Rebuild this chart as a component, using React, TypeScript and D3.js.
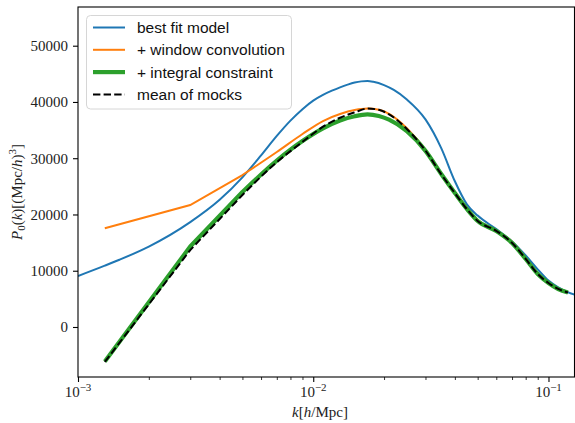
import * as d3 from "d3";
import { useEffect, useRef } from "react";

// model curve, sampled on k
const kModel = [0.001, 0.0013, 0.0015, 0.002, 0.003, 0.004, 0.005, 0.006, 0.007, 0.008, 0.009, 0.01, 0.011, 0.012, 0.013, 0.014, 0.015, 0.016, 0.017, 0.018, 0.02, 0.022, 0.025, 0.03, 0.035, 0.04, 0.045, 0.05, 0.06, 0.07, 0.08, 0.09, 0.1, 0.11, 0.12, 0.13];
const bestFit = [9060, 10900, 11950, 14290, 18640, 22610, 26600, 30500, 33960, 36680, 38720, 40230, 41250, 42000, 42600, 43080, 43450, 43660, 43720, 43580, 42990, 42130, 40440, 36900, 31800, 25900, 21800, 19800, 17400, 15200, 12700, 10250, 8250, 7050, 6250, 5700];

// binned k of the mocks
const kBins = [0.0013, 0.003, 0.005, 0.007, 0.009, 0.011, 0.013, 0.015, 0.017, 0.019, 0.021, 0.025, 0.03, 0.035, 0.04, 0.045, 0.05, 0.06, 0.07, 0.08, 0.09, 0.1, 0.11, 0.121];
const windowConv = [17540, 21680, 27010, 31100, 34300, 36610, 37850, 38560, 38830, 38600, 37900, 35350, 31500, 27300, 23900, 21060, 19010, 17150, 15150, 12260, 9510, 7870, 6800, 6170];
const integralConstraint = [-6130, 14300, 23990, 29590, 33050, 35300, 36700, 37450, 37780, 37500, 36850, 34800, 31300, 27200, 23810, 20970, 18840, 17060, 14930, 12080, 9420, 7820, 6750, 6130];
const mockMean = [-6220, 13680, 23460, 29300, 32900, 35600, 37200, 38150, 38830, 38600, 37800, 35200, 31350, 27150, 23800, 20950, 18850, 17080, 14950, 12100, 9430, 7830, 6760, 6140];

const yTicks = [0, 10000, 20000, 30000, 40000, 50000];
const xMajor = [1e-3, 1e-2, 1e-1];
const xMajorExp = ["−3", "−2", "−1"];
const legendLabels = ["best fit model", "+ window convolution", "+ integral constraint", "mean of mocks"];

export default function App() {
  const ref = useRef<SVGSVGElement>(null);

  useEffect(() => {
    const svg = d3.select(ref.current);
    svg.selectAll("*").remove();

    const left = 78, right = 574.5, top = 7, bottom = 377;
    const serif = "'Liberation Serif', 'Times New Roman', serif";
    const sans = "'Liberation Sans', Arial, sans-serif";

    const x = d3.scaleLog().domain([1e-3, 0.129]).range([left, right]);
    const y = d3.scaleLinear().domain([-8890, 56880]).range([bottom, top]);

    svg.append("rect").attr("width", 575).attr("height", 423).attr("fill", "white");

    svg.append("clipPath").attr("id", "plotArea")
      .append("rect")
      .attr("x", left).attr("y", top)
      .attr("width", right - left).attr("height", bottom - top);

    const plot = svg.append("g").attr("clip-path", "url(#plotArea)");

    const modelLine = d3.line<number>()
      .x((_, i) => x(kModel[i]))
      .y(d => y(d))
      .curve(d3.curveMonotoneX);

    // first wide bins straight, the dense ones smoothed
    const pts = (vals: number[]) => vals.map((v, i) => [x(kBins[i]), y(v)] as [number, number]);
    const straight = d3.line();
    const smooth = d3.line().curve(d3.curveMonotoneX);
    const binPath = (vals: number[]) => {
      const p = pts(vals);
      return straight(p.slice(0, 3))! + smooth(p.slice(2))!.replace(/^M[^CL]*/, "");
    };

    plot.append("path").datum(bestFit)
      .attr("fill", "none").attr("stroke", "#1f77b4").attr("stroke-width", 2)
      .attr("d", modelLine);

    plot.append("path")
      .attr("fill", "none").attr("stroke", "#ff7f0e").attr("stroke-width", 2)
      .attr("d", binPath(windowConv));

    plot.append("path")
      .attr("fill", "none").attr("stroke", "#2ca02c").attr("stroke-width", 4.2)
      .attr("stroke-linejoin", "round")
      .attr("d", binPath(integralConstraint));

    plot.append("path")
      .attr("fill", "none").attr("stroke", "black").attr("stroke-width", 2)
      .attr("stroke-dasharray", "7.4,3.2")
      .attr("d", binPath(mockMean));

    // y axis
    const yAxis = svg.append("g")
      .attr("transform", `translate(${left},0)`)
      .call(d3.axisLeft(y).tickValues(yTicks).tickSize(5).tickPadding(5).tickFormat(d3.format("d")));
    yAxis.select(".domain").remove();
    yAxis.selectAll("line").attr("stroke", "black").attr("stroke-width", 1.1);
    yAxis.selectAll("text")
      .style("font-family", serif).style("font-size", "15px").attr("fill", "#222");

    // x axis: minor ticks
    const minor = x.ticks().filter(v => !xMajor.some(m => Math.abs(m - v) / m < 1e-6));
    const xMinor = svg.append("g")
      .attr("transform", `translate(0,${bottom})`)
      .call(d3.axisBottom(x).tickValues(minor).tickSize(3).tickFormat(() => ""));
    xMinor.select(".domain").remove();
    xMinor.selectAll("line").attr("stroke", "black").attr("stroke-width", 0.8);

    const xAxis = svg.append("g")
      .attr("transform", `translate(0,${bottom})`)
      .call(d3.axisBottom(x).tickValues(xMajor).tickSize(5).tickFormat(() => ""));
    xAxis.select(".domain").remove();
    xAxis.selectAll("line").attr("stroke", "black").attr("stroke-width", 1.1);

    xMajor.forEach((v, i) => {
      const t = svg.append("text")
        .attr("x", x(v)).attr("y", 397)
        .attr("text-anchor", "middle")
        .style("font-family", serif).style("font-size", "15px").attr("fill", "#222");
      t.append("tspan").text("10");
      t.append("tspan").attr("dy", -6).style("font-size", "11px").text(xMajorExp[i]);
    });

    // frame
    svg.append("rect")
      .attr("x", left).attr("y", top)
      .attr("width", right - left).attr("height", bottom - top)
      .attr("fill", "none").attr("stroke", "black").attr("stroke-width", 1.1);

    // axis labels
    const xl = svg.append("text")
      .attr("x", 320).attr("y", 417)
      .attr("text-anchor", "middle")
      .style("font-family", serif).style("font-size", "15px").attr("fill", "#222");
    xl.append("tspan").style("font-style", "italic").text("k");
    xl.append("tspan").text("[");
    xl.append("tspan").style("font-style", "italic").text("h");
    xl.append("tspan").text("/Mpc]");

    const yl = svg.append("text")
      .attr("transform", `translate(22,${(top + bottom) / 2}) rotate(-90)`)
      .attr("text-anchor", "middle")
      .style("font-family", serif).style("font-size", "15px").attr("fill", "#222");
    yl.append("tspan").style("font-style", "italic").text("P");
    yl.append("tspan").attr("dy", 3).style("font-size", "11px").text("0");
    yl.append("tspan").attr("dy", -3).text("(");
    yl.append("tspan").style("font-style", "italic").text("k");
    yl.append("tspan").text(")[(Mpc/");
    yl.append("tspan").style("font-style", "italic").text("h");
    yl.append("tspan").text(")");
    yl.append("tspan").attr("dy", -6).style("font-size", "11px").text("3");
    yl.append("tspan").attr("dy", 6).text("]");

    // legend
    const legend = svg.append("g");
    legend.append("rect")
      .attr("x", 86.5).attr("y", 15.5).attr("width", 205).attr("height", 93.5)
      .attr("rx", 4).attr("fill", "white").attr("fill-opacity", 0.8)
      .attr("stroke", "#d6d6d6").attr("stroke-width", 1);

    const styles = [
      { color: "#1f77b4", width: 2, dash: null },
      { color: "#ff7f0e", width: 2, dash: null },
      { color: "#2ca02c", width: 4.2, dash: null },
      { color: "black", width: 2, dash: "7.4,3.2" },
    ];
    legendLabels.forEach((label, i) => {
      const cy = 27.5 + i * 22.3;
      const ln = legend.append("line")
        .attr("x1", 93).attr("x2", 125).attr("y1", cy).attr("y2", cy)
        .attr("stroke", styles[i].color).attr("stroke-width", styles[i].width);
      if (styles[i].dash) ln.attr("stroke-dasharray", styles[i].dash);
      legend.append("text")
        .attr("x", 137).attr("y", cy + 5.5)
        .style("font-family", sans).style("font-size", "15.5px").attr("fill", "#111")
        .text(label);
    });
  }, []);

  return <svg ref={ref} width={575} height={423} style={{ position: "absolute", left: 0, top: 0 }} />;
}
